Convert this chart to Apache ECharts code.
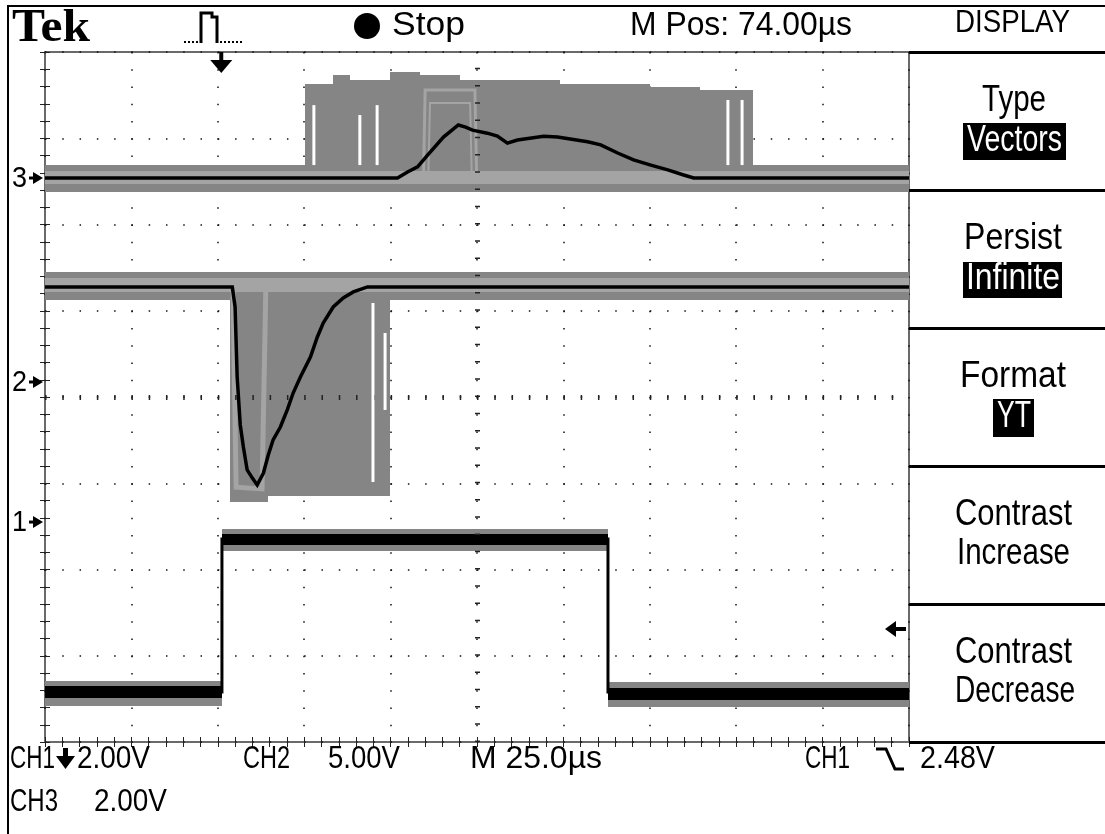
<!DOCTYPE html>
<html><head><meta charset="utf-8">
<script src="https://cdn.jsdelivr.net/npm/echarts@6/dist/echarts.min.js"></script>
<style>html,body{margin:0;padding:0;background:#fff;overflow:hidden}#c{width:1105px;height:834px}</style>
</head><body><div id="c"></div>
<script>
// ================= DATA =================
// time in microseconds relative to trigger (25 us/div, M Pos 74 us at screen centre)
const timeMin = -51, timeMax = 199;
// channel settings: volts per division and ground-marker position (divisions from centre)
const ch1VoltsPerDiv = 2, ch1Position = -1.45;
const ch2VoltsPerDiv = 5, ch2Position = 0.174;
const ch3VoltsPerDiv = 2, ch3Position = 2.539;
const ch1TriggerLevel = -2.48;

// CH1: gate pulse (displayed volts)
const ch1Time  = [-51, 0.2, 0.2, 111.9, 111.9, 199];
const ch1Volts = [-3.94, -3.94, -0.39, -0.39, -3.94, -3.94];
// CH2: negative current pulse
const ch2Time  = [-51, 3.2, 4.0, 4.6, 5.5, 6.4, 7.5, 9.0, 10.4, 12.2, 13.6, 15.0, 17.1, 19.1, 20.8, 22.9, 25.8, 27.8, 29.5, 32.4, 35.3, 38.2, 42.3, 199];
const ch2Volts = [5.51, 5.51, 4.35, 0.29, -2.49, -3.77, -5.10, -5.57, -5.97, -5.28, -4.23, -3.36, -2.61, -1.62, -0.64, 0.29, 1.45, 2.61, 3.42, 4.35, 4.87, 5.22, 5.51, 5.51];
// CH3: response bump
const ch3Time  = [-51, 51.0, 53.9, 56.8, 59.7, 64.3, 68.6, 70.7, 72.7, 77.0, 79.9, 82.8, 85.7, 93.3, 97.3, 106.0, 109.8, 114.7, 119.3, 124.3, 129.2, 133.8, 136.7, 199];
const ch3Volts = [0, 0, 0.14, 0.26, 0.53, 0.95, 1.23, 1.18, 1.11, 1.04, 0.97, 0.81, 0.88, 0.97, 0.95, 0.84, 0.77, 0.58, 0.42, 0.30, 0.19, 0.07, 0, 0];

// infinite-persistence regions: [tStart, tEnd, vLow, vHigh]
const ch1PersistDither = [[-51, 0.2, -4.27, -3.69], [0.2, 111.9, -0.67, -0.16], [111.9, 199, -4.30, -3.72]];
const ch1PersistDense  = [[-51, 0.2, -4.08, -3.80], [0.2, 111.9, -0.53, -0.28], [111.9, 199, -4.12, -3.84]];
const ch2PersistDither = [[-51, 199, 4.75, 6.38], [2.5, 13.5, -6.96, 4.75], [13.5, 48.9, -6.60, 4.75]];
const ch2PersistSolid  = [[-51, 199, 5.22, 6.03]];
const ch3PersistDither = [[-51, 199, -0.32, 0.30], [24.2, 32.3, 0.30, 2.18], [32.3, 37.3, 0.30, 2.39], [37.3, 48.8, 0.30, 2.27],
  [48.8, 57.5, 0.30, 2.46], [57.5, 69.1, 0.30, 2.40], [69.1, 98.0, 0.30, 2.27], [98.0, 124.1, 0.30, 2.18], [124.1, 138.5, 0.30, 2.12], [138.5, 153.7, 0.30, 2.05]];
const ch3PersistSolid  = [[-51, 199, -0.14, 0.16]];
// persistence outlines of earlier acquisitions
const ch3OutlineTime  = [58.5, 59.0, 73.4, 73.9];
const ch3OutlineVolts = [0, 2.04, 2.04, 0];
const ch3InnerTime    = [59.9, 60.4, 72.0, 72.5];
const ch3InnerVolts   = [0, 1.74, 1.74, 0];
const ch2OutlineTime  = [3.4, 4.3, 11.8, 12.9];
const ch2OutlineVolts = [5.5, -6.1, -6.2, 5.5];
// gaps (never-hit columns) inside persistence: [t, vFrom, vTo]
const ch3Gaps = [[26.8, 1.69, 0.30], [40.1, 1.46, 0.30], [45.1, 1.69, 0.30], [146.6, 1.81, 0.30], [150.7, 1.81, 0.30]];
const ch2Gaps = [[43.9, 4.58, -5.80], [47.4, 2.84, -1.62]];

// text
const headerLabels = ['Tek', 'Stop', 'M Pos: 74.00µs', 'DISPLAY'];
const menuLabels = [['Type', 'Vectors'], ['Persist', 'Infinite'], ['Format', 'YT'], ['Contrast', 'Increase'], ['Contrast', 'Decrease']];
const footerLabels = ['CH1', '2.00V', 'CH2', '5.00V', 'M 25.0µs', 'CH1', '2.48V', 'CH3', '2.00V'];

// ================= CHART =================
const chart = echarts.init(document.getElementById('c'), null, {renderer: 'canvas'});
const DITHER = '#858585';
const SOLID = '#a4a4a4';

function chRange(vpd, pos) { return {min: (-4 - pos) * vpd, max: (4 - pos) * vpd}; }
const r1 = chRange(ch1VoltsPerDiv, ch1Position), r2 = chRange(ch2VoltsPerDiv, ch2Position), r3 = chRange(ch3VoltsPerDiv, ch3Position);

function rectSeries(yAxisIndex, data, fill, z) {
  return {type: 'custom', xAxisIndex: 2, yAxisIndex, z, silent: true, data, encode: {x: [0, 1], y: [2, 3]},
    renderItem: (p, api) => {
      const a = api.coord([api.value(0), api.value(3)]);
      const b = api.coord([api.value(1), api.value(2)]);
      return {type: 'rect', shape: {x: Math.round(a[0]), y: Math.round(a[1]), width: Math.round(b[0] - a[0]), height: Math.round(b[1] - a[1])}, style: {fill}};
    }};
}
function gapSeries(yAxisIndex, data, z) {
  return {type: 'custom', xAxisIndex: 2, yAxisIndex, z, silent: true, data, encode: {x: 0, y: [1, 2]},
    renderItem: (p, api) => {
      const a = api.coord([api.value(0), api.value(1)]);
      const b = api.coord([api.value(0), api.value(2)]);
      return {type: 'line', shape: {x1: a[0], y1: a[1], x2: b[0], y2: b[1]}, style: {stroke: '#fff', lineWidth: 3}};
    }};
}
function lineSeries(yAxisIndex, t, v, color, width, z) {
  return {type: 'line', xAxisIndex: 2, yAxisIndex, z, silent: true, symbol: 'none', showSymbol: false,
    data: t.map((x, i) => [x, v[i]]), lineStyle: {color, width, join: 'miter'}};
}
const dotX = [1.5, 15.75], dotY = [1.5, 15.78];
function gratX(pos, split) {
  return {type: 'value', gridIndex: 0, min: 0, max: 10, interval: 1, position: pos,
    axisLine: {show: false}, axisLabel: {show: false},
    axisTick: {show: true, inside: true, length: 5, lineStyle: {color: '#222', width: 1}},
    minorTick: {show: true, splitNumber: 5, length: 5, lineStyle: {color: '#222', width: 1}},
    splitLine: {show: split, lineStyle: {color: '#111', width: 1.5, type: dotX}}};
}
function gratY(pos, split) {
  return {type: 'value', gridIndex: 0, min: 0, max: 8, interval: 1, position: pos,
    axisLine: {show: false}, axisLabel: {show: false},
    axisTick: {show: true, inside: true, length: 5, lineStyle: {color: '#222', width: 1}},
    minorTick: {show: true, splitNumber: 5, length: 5, lineStyle: {color: '#222', width: 1}},
    splitLine: {show: split, lineStyle: {color: '#111', width: 1.5, type: dotY}}};
}

chart.setOption({
  animation: false,
  backgroundColor: '#fff',
  grid: {left: 45, top: 52, width: 864, height: 690, show: true, borderColor: '#6a6a6a', borderWidth: 2, containLabel: false},
  xAxis: [gratX('bottom', true), gratX('top', false), {type: 'value', gridIndex: 0, min: timeMin, max: timeMax, show: false}],
  yAxis: [gratY('left', true), gratY('right', false),
    {type: 'value', gridIndex: 0, min: r1.min, max: r1.max, show: false},
    {type: 'value', gridIndex: 0, min: r2.min, max: r2.max, show: false},
    {type: 'value', gridIndex: 0, min: r3.min, max: r3.max, show: false}],
  series: [
    {type: 'line', xAxisIndex: 0, yAxisIndex: 0, data: [], z: 1, silent: true,
      markLine: {symbol: 'none', silent: true, label: {show: false}, animation: false,
        data: [{xAxis: 5, lineStyle: {color: '#222', width: 5, type: [1.5, 15.75]}},
               {yAxis: 4, lineStyle: {color: '#222', width: 5, type: [1.5, 15.78]}}]}},
    rectSeries(4, ch3PersistDither, DITHER, 2),
    rectSeries(4, ch3PersistSolid, SOLID, 3),
    lineSeries(4, ch3OutlineTime, ch3OutlineVolts, SOLID, 3, 4),
    lineSeries(4, ch3InnerTime, ch3InnerVolts, SOLID, 2, 4),
    gapSeries(4, ch3Gaps, 5),
    lineSeries(4, ch3Time, ch3Volts, '#000', 3.5, 6),
    rectSeries(3, ch2PersistDither, DITHER, 2),
    rectSeries(3, ch2PersistSolid, SOLID, 3),
    lineSeries(3, ch2OutlineTime, ch2OutlineVolts, SOLID, 5, 4),
    gapSeries(3, ch2Gaps, 5),
    lineSeries(3, ch2Time, ch2Volts, '#000', 3.5, 6),
    rectSeries(2, ch1PersistDither, DITHER, 2),
    rectSeries(2, ch1PersistDense, '#000', 3),
    lineSeries(2, ch1Time, ch1Volts, '#000', 3, 6)
  ]
});

// ================= ANNOTATIONS =================
const SANS = '"Liberation Sans", Arial, sans-serif';
const mctx = document.createElement('canvas').getContext('2d');
// text fitted horizontally into [x0, x1]
function T(x0, x1, y, text, size, opt) {
  opt = opt || {};
  const font = (opt.weight || 'normal') + ' ' + size + 'px ' + (opt.family || SANS);
  mctx.font = font;
  const w = mctx.measureText(text).width;
  return {type: 'text', z: 100, x: x0, y, scaleX: (x1 - x0) / w, silent: true,
    style: {text, font, fill: opt.fill || '#000', align: 'left', verticalAlign: 'middle'}};
}
function R(x, y, w, h, fill) { return {type: 'rect', z: 100, silent: true, shape: {x, y, width: w, height: h}, style: {fill: fill || '#000'}}; }
function P(points, fill) { return {type: 'polygon', z: 100, silent: true, shape: {points}, style: {fill: fill || '#000'}}; }
function L(points, w) { return {type: 'polyline', z: 100, silent: true, shape: {points}, style: {stroke: '#000', lineWidth: w || 2, fill: null}}; }

const g = [];
// frame
g.push(R(7, 5, 1100, 2), R(7, 5, 2, 830));
// menu separators
[51, 189, 327, 465, 603, 741].forEach(y => g.push(R(909, y, 196, 3)));
// header
g.push(T(12, 90, 29, headerLabels[0], 46, {weight: 'bold', family: '"Liberation Serif", "DejaVu Serif", serif'}));
for (let x = 184; x < 198; x += 4) g.push(R(x, 41, 2, 2));
for (let x = 220; x < 244; x += 4) g.push(R(x, 41, 2, 2));
g.push(L([[201, 43], [201, 13], [212, 13], [212, 17], [217, 17], [217, 43]], 3));
g.push({type: 'circle', z: 100, silent: true, shape: {cx: 367, cy: 26, r: 13}, style: {fill: '#000'}});
g.push(T(392, 465, 26, headerLabels[1], 33));
g.push(T(630, 852, 26, headerLabels[2], 33));
g.push(T(955, 1070, 23, headerLabels[3], 32));
// menu
const menuSpans = [[[982, 1046], [967, 1062]], [[964, 1062], [966, 1060]], [[960, 1066], [997, 1031]], [[955, 1072], [957, 1070]], [[955, 1072], [955, 1075]]];
const boxes = [[963, 123, 103, 37], [963, 262, 99, 36], [993, 399, 41, 38]];
menuLabels.forEach((m, i) => {
  const top = 52 + i * 138;
  const s = menuSpans[i];
  g.push(T(s[0][0], s[0][1], top + 49, m[0], 36));
  if (i < 3) {
    const b = boxes[i];
    g.push(R(b[0], b[1], b[2], b[3]));
    g.push(T(s[1][0], s[1][1], top + 89, m[1], 36, {fill: '#fff'}));
  } else {
    g.push(T(s[1][0], s[1][1], top + 88, m[1], 36));
  }
});
// footer
g.push(T(10, 55, 759, footerLabels[0], 31));
g.push(R(63, 748, 5, 9), P([[56, 756], [75, 756], [65.5, 769]]));
g.push(T(77, 150, 759, footerLabels[1], 31));
g.push(T(243, 290, 759, footerLabels[2], 31));
g.push(T(328, 400, 759, footerLabels[3], 31));
g.push(T(470, 602, 759, footerLabels[4], 31));
g.push(T(805, 850, 759, footerLabels[5], 31));
g.push(L([[876, 749], [886, 749], [895, 769], [904, 769]], 3));
g.push(T(920, 995, 759, footerLabels[6], 31));
g.push(T(10, 58, 802, footerLabels[7], 31));
g.push(T(94, 167, 802, footerLabels[8], 31));

// channel ground markers, trigger position and trigger level (placed through axes)
[[2, '1'], [3, '2'], [4, '3']].forEach(([ax, label]) => {
  const y = chart.convertToPixel({yAxisIndex: ax}, 0);
  g.push(T(12, 27, y + 1, label, 30));
  g.push(R(29, y - 1.5, 5, 3), P([[33, y - 6], [43, y], [33, y + 6]]));
});
const tx = chart.convertToPixel({xAxisIndex: 2}, 0);
g.push(R(tx - 2, 52, 4, 9), P([[tx - 11, 60], [tx + 11, 60], [tx, 73]]));
const ly = chart.convertToPixel({yAxisIndex: 2}, ch1TriggerLevel);
g.push(P([[885, ly], [896, ly - 8], [896, ly + 8]]), R(895, ly - 2, 11, 4));

chart.setOption({graphic: {elements: g}});
</script></body></html>
